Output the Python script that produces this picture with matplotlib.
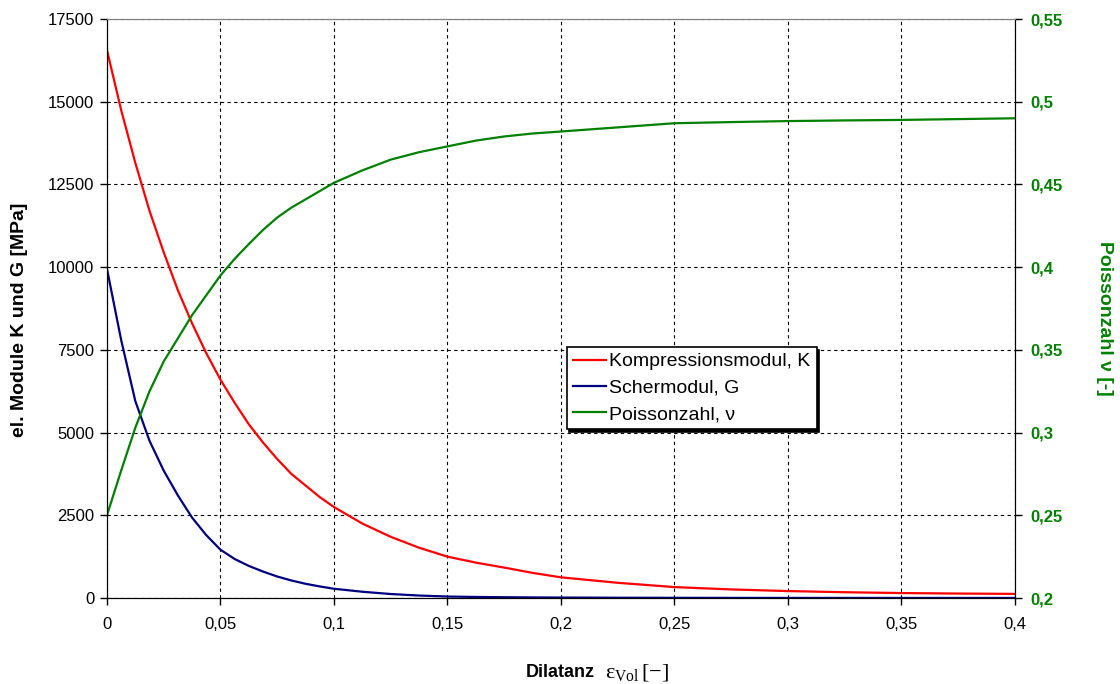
import matplotlib
matplotlib.use("Agg")
import matplotlib.pyplot as plt
from matplotlib.lines import Line2D

plt.rcParams['font.family'] = ['Liberation Sans', 'DejaVu Sans']
plt.rcParams['mathtext.fontset'] = 'custom'
plt.rcParams['mathtext.rm'] = 'Liberation Serif'
plt.rcParams['mathtext.it'] = 'Liberation Serif:italic'

# Dilatanz eps_vol [-]
eps = [0, 0.00625, 0.0125, 0.01875, 0.025, 0.03125, 0.0375, 0.04375, 0.05,
       0.05625, 0.0625, 0.06875, 0.075, 0.08125, 0.0875, 0.09375, 0.1,
       0.1125, 0.125, 0.1375, 0.15, 0.1625, 0.175, 0.1875, 0.2,
       0.225, 0.25, 0.275, 0.3, 0.325, 0.35, 0.375, 0.4]

# Kompressionsmodul K [MPa]
K = [16560, 14750, 13150, 11700, 10450, 9300, 8300, 7400, 6600,
     5900, 5250, 4700, 4200, 3750, 3400, 3050, 2750,
     2250, 1850, 1520, 1250, 1070, 920, 760, 625,
     460, 330, 260, 210, 175, 150, 135, 125]

# Schermodul G [MPa]
G = [9950, 7800, 5950, 4750, 3850, 3100, 2430, 1900, 1460,
     1180, 970, 800, 650, 530, 430, 350, 280,
     190, 121, 75, 45, 32, 24, 18, 14,
     9, 6, 4, 3, 3, 2, 2, 2]

# Poissonzahl nu [-]
nu = [0.25, 0.277, 0.303, 0.325, 0.343, 0.357, 0.371, 0.383, 0.395,
      0.405, 0.414, 0.4225, 0.430, 0.436, 0.441, 0.446, 0.451,
      0.4585, 0.465, 0.4695, 0.473, 0.4765, 0.479, 0.4808, 0.482,
      0.4845, 0.487, 0.4877, 0.4883, 0.4887, 0.489, 0.4895, 0.490]

x_ticks = [0, 0.05, 0.1, 0.15, 0.2, 0.25, 0.3, 0.35, 0.4]
x_labels = ["0", "0,05", "0,1", "0,15", "0,2", "0,25", "0,3", "0,35", "0,4"]
y_ticks = [0, 2500, 5000, 7500, 10000, 12500, 15000, 17500]
nu_ticks = [0.2, 0.25, 0.3, 0.35, 0.4, 0.45, 0.5, 0.55]
nu_labels = ["0,2", "0,25", "0,3", "0,35", "0,4", "0,45", "0,5", "0,55"]

red = '#FF0000'
blue = '#000080'
green = '#008000'

fig = plt.figure(figsize=(11.2, 6.84), dpi=100)
ax = fig.add_axes([0.0955, 0.1257, 0.8107, 0.8465])
ax2 = ax.twinx()

ax.plot(eps, K, color=red, lw=1.6)
ax.plot(eps, G, color=blue, lw=1.6)
ax2.plot(eps, nu, color=green, lw=1.6)

ax.set_xlim(0, 0.4)
ax.set_ylim(0, 17500)
ax2.set_ylim(0.2, 0.55)

ax.set_xticks(x_ticks)
ax.set_xticklabels(x_labels)
ax.set_yticks(y_ticks)
ax.set_yticklabels([str(v) for v in y_ticks])
ax2.set_yticks(nu_ticks)
ax2.set_yticklabels(nu_labels, color=green, fontweight='bold')

ax.grid(True, color='black', linestyle=(0, (3, 3)), linewidth=0.8)
ax.tick_params(axis='both', direction='out', length=5, width=1, labelsize=12)
ax.tick_params(axis='x', pad=9)
ax.tick_params(axis='y', pad=4)
ax2.tick_params(axis='y', direction='out', length=5, width=1, labelsize=12, pad=6)

for a in (ax, ax2):
    a.spines['top'].set_color('#808080')
    for s in ('left', 'right', 'bottom'):
        a.spines[s].set_color('black')

fig.text(20 / 1120, 1 - 320 / 684, "el. Module K und G [MPa]", rotation=90,
         ha='center', va='center', fontsize=14, fontweight='bold')
fig.text(1105 / 1120, 1 - 318 / 684, "Poissonzahl ν [-]", rotation=270,
         ha='center', va='center', fontsize=14, fontweight='bold', color=green)
fig.text(0.531, 0.0102, "Dilatanz", ha='right', va='baseline',
         fontsize=13, fontweight='bold')
fig.text(0.540, 0.0102, r"$\mathrm{ε}_{\mathrm{Vol}}\,[-]$", ha='left', va='baseline',
         fontsize=16)

handles = [Line2D([], [], color=red, lw=1.6),
           Line2D([], [], color=blue, lw=1.6),
           Line2D([], [], color=green, lw=1.6)]
labels = ["Kompressionsmodul, K", "Schermodul, G", "Poissonzahl, ν"]
leg = ax2.legend(handles, labels, loc='upper left', bbox_to_anchor=(0.506, 0.4927),
                 bbox_transform=fig.transFigure, borderaxespad=0, fontsize=14,
                 fancybox=False, edgecolor='black', framealpha=1, borderpad=0.3,
                 labelspacing=0.45, handlelength=1.7, handletextpad=0.2,
                 shadow={'color': 'black', 'alpha': 1})
leg.get_frame().set_linewidth(1.2)

fig.savefig("out.png", dpi=100)
